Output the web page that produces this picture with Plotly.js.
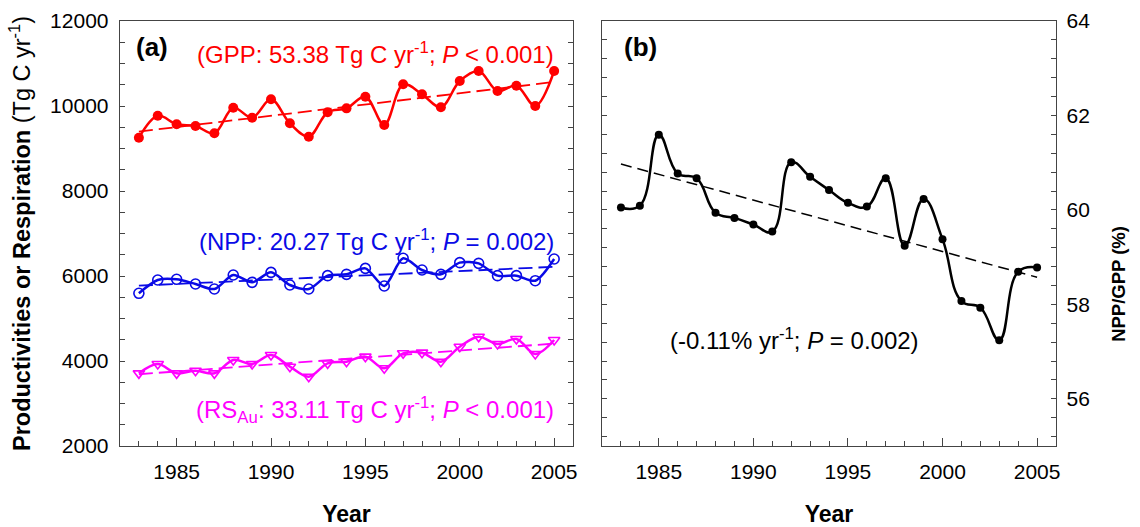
<!DOCTYPE html>
<html>
<head>
<meta charset="utf-8">
<script src="https://cdn.plot.ly/plotly-3.0.1.min.js"></script>
<style>html,body{margin:0;padding:0;background:#fff;}#chart{width:1140px;height:527px;}</style>
</head>
<body>
<div id="chart"></div>
<script>
const years = [1983,1984,1985,1986,1987,1988,1989,1990,1991,1992,1993,1994,1995,1996,1997,1998,1999,2000,2001,2002,2003,2004,2005];
const gpp = [9254,9772,9569,9529,9358,9960,9725,10158,9593,9278,9851,9945,10219,9553,10510,10275,9969,10588,10824,10353,10478,10000,10824];
const npp = [5593,5906,5922,5812,5694,6024,5851,6086,5788,5694,6008,6039,6180,5765,6416,6141,6039,6314,6298,6008,6008,5890,6400];
const rsau = [3710,3929,3710,3772,3710,4024,3929,4141,3866,3631,3945,3984,4102,3828,4181,4196,3984,4337,4572,4400,4518,4165,4494];
const ratio = [60.05,60.09,61.59,60.77,60.67,59.94,59.83,59.69,59.54,61.01,60.70,60.42,60.15,60.07,60.67,59.24,60.23,59.38,58.07,57.93,57.24,58.69,58.78];
const yearTicks = [1985,1990,1995,2000,2005];
const prodTicks = [2000,4000,6000,8000,10000,12000];
const ratioTicks = [56,58,60,62,64];

function trend(x, y) {
  const n = x.length;
  const mx = x.reduce((a,b)=>a+b,0)/n, my = y.reduce((a,b)=>a+b,0)/n;
  let sxy = 0, sxx = 0;
  for (let i=0;i<n;i++){ sxy += (x[i]-mx)*(y[i]-my); sxx += (x[i]-mx)*(x[i]-mx); }
  const b = sxy/sxx, a = my - b*mx;
  const xs = [x[0], x[n-1]];
  return {x: xs, y: xs.map(v => a + b*v)};
}

const FONT = "Liberation Sans, Arial, sans-serif";
const RED = "#ff0000", BLUE = "#0a0ae6", MAG = "#ff00ff", BLK = "#000000";

function curve(y, color, marker, xa, ya, smooth, width) {
  return {x: years, y: y, xaxis: xa, yaxis: ya, type: 'scatter', mode: 'lines+markers',
    line: {color: color, width: width, shape: 'spline', smoothing: smooth},
    marker: marker, hoverinfo: 'skip', showlegend: false};
}
function tline(y, color, xa, ya, dash, width) {
  const t = trend(years, y);
  return {x: t.x, y: t.y, xaxis: xa, yaxis: ya, type: 'scatter', mode: 'lines',
    line: {color: color, width: width, dash: dash}, hoverinfo: 'skip', showlegend: false};
}

const traces = [
  curve(gpp, RED, {symbol: 'circle', size: 10, color: RED}, 'x', 'y', 1.0, 2.5),
  tline(gpp, RED, 'x', 'y', '14px,6px', 1.8),
  curve(npp, BLUE, {symbol: 'circle-open', size: 10, color: BLUE, line: {width: 1.6, color: BLUE}}, 'x', 'y', 0.8, 2.5),
  tline(npp, BLUE, 'x', 'y', '14px,6px', 1.8),
  curve(rsau, MAG, {symbol: 'triangle-down-open', size: 10, color: MAG, line: {width: 1.6, color: MAG}}, 'x', 'y', 1.0, 2.5),
  tline(rsau, MAG, 'x', 'y', '14px,6px', 1.8),
  curve(ratio, BLK, {symbol: 'circle', size: 8, color: BLK}, 'x2', 'y2', 1.25, 2.5),
  tline(ratio, BLK, 'x2', 'y2', '11px,6px', 1.5)
];

const tickFont = {family: FONT, size: 21, color: '#000'};
const titleFont = {family: FONT, size: 23, color: '#000'};
const AX = '#444';

function xaxis(domain, anchor) {
  return {domain: domain, anchor: anchor, range: [1982, 2006], tickvals: yearTicks, ticktext: yearTicks.map(String),
    ticks: 'inside', ticklen: 8, tickwidth: 1, tickcolor: AX, showline: true, linecolor: AX, linewidth: 1.3,
    mirror: true, showgrid: false, zeroline: false, tickfont: tickFont, ticklabelstandoff: 6,
    minor: {dtick: 1, tick0: 1982, ticks: 'inside', ticklen: 5, tickcolor: AX, showgrid: false},
    title: {text: '<b>Year</b>', font: titleFont, standoff: 24}};
}

const layout = {
  width: 1140, height: 527,
  margin: {l: 120, r: 84, t: 21, b: 81},
  paper_bgcolor: '#fff', plot_bgcolor: '#fff',
  font: {family: FONT, color: '#000'},
  showlegend: false,
  xaxis: xaxis([0, 0.484], 'y'),
  xaxis2: xaxis([0.515, 1], 'y2'),
  yaxis: {domain: [0, 1], anchor: 'x', range: [2000, 12000], tickvals: prodTicks, ticktext: prodTicks.map(String),
    ticks: 'inside', ticklen: 5, tickwidth: 1, tickcolor: AX, showline: true, linecolor: AX, linewidth: 1.3,
    mirror: 'ticks', showgrid: false, zeroline: false, tickfont: tickFont, ticklabelstandoff: 6,
    minor: {dtick: 500, tick0: 2000, ticks: 'inside', ticklen: 5, tickcolor: AX, showgrid: false},
    title: {text: '<b>Productivities or Respiration</b> (Tg C yr<sup>-1</sup>)', font: {family: FONT, size: 23.5, color: '#000'}, standoff: 13}},
  yaxis2: {domain: [0, 1], anchor: 'x2', side: 'right', range: [55, 64], tickvals: ratioTicks, ticktext: ratioTicks.map(String),
    ticks: 'inside', ticklen: 5, tickwidth: 1, tickcolor: AX, showline: true, linecolor: AX, linewidth: 1.3,
    mirror: 'ticks', showgrid: false, zeroline: false, tickfont: tickFont, ticklabelstandoff: 5,
    minor: {dtick: 0.4, tick0: 56, ticks: 'inside', ticklen: 5, tickcolor: AX, showgrid: false}},
  annotations: [
    {xref: 'x domain', yref: 'y domain', x: 0.071, y: 0.939, xanchor: 'center', yanchor: 'middle', showarrow: false,
      text: '<b>(a)</b>', font: {family: FONT, size: 26, color: BLK}},
    {xref: 'x domain', yref: 'y domain', x: 0.962, y: 0.925, xanchor: 'right', yanchor: 'middle', showarrow: false,
      text: '(GPP: 53.38 Tg C yr<sup>-1</sup>; <i>P</i> < 0.001)', font: {family: FONT, size: 24, color: RED}},
    {xref: 'x domain', yref: 'y domain', x: 0.962, y: 0.485, xanchor: 'right', yanchor: 'middle', showarrow: false,
      text: '(NPP: 20.27 Tg C yr<sup>-1</sup>; <i>P</i> = 0.002)', font: {family: FONT, size: 24, color: BLUE}},
    {xref: 'x domain', yref: 'y domain', x: 0.962, y: 0.085, xanchor: 'right', yanchor: 'middle', showarrow: false,
      text: '(RS<sub>Au</sub>: 33.11 Tg C yr<sup>-1</sup>; <i>P</i> < 0.001)', font: {family: FONT, size: 24, color: MAG}},
    {xref: 'x2 domain', yref: 'y2 domain', x: 0.084, y: 0.939, xanchor: 'center', yanchor: 'middle', showarrow: false,
      text: '<b>(b)</b>', font: {family: FONT, size: 26, color: BLK}},
    {xref: 'x2 domain', yref: 'y2 domain', x: 0.423, y: 0.252, xanchor: 'center', yanchor: 'middle', showarrow: false,
      text: '(-0.11% yr<sup>-1</sup>; <i>P</i> = 0.002)', font: {family: FONT, size: 24, color: BLK}},
    {xref: 'paper', yref: 'paper', x: 1.066, y: 0.381, xanchor: 'center', yanchor: 'middle', showarrow: false, textangle: -90,
      text: '<b>NPP/GPP (%)</b>', font: {family: FONT, size: 18.5, color: BLK}}
  ]
};

Plotly.newPlot('chart', traces, layout, {staticPlot: true, displayModeBar: false});
</script>
</body>
</html>
